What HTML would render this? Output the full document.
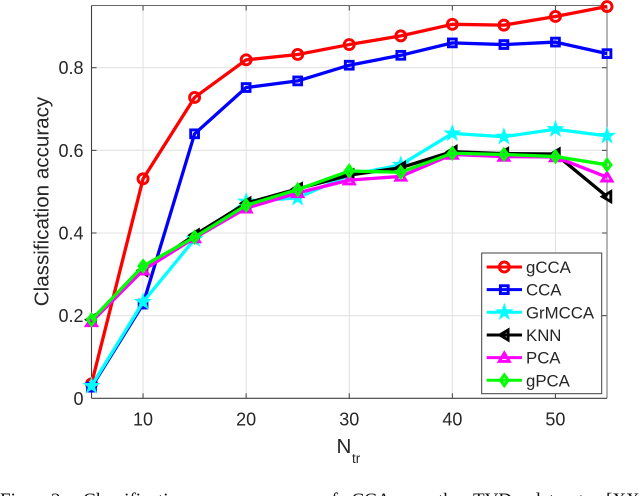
<!DOCTYPE html>
<html lang="en">
<head>
<meta charset="utf-8">
<title>Classification accuracy chart</title>
<style>
html,body{margin:0;padding:0;background:#fff;width:640px;height:496px;overflow:hidden}
svg{display:block}
text{font-family:"Liberation Sans",sans-serif;fill:#262626}
</style>
</head>
<body>
<svg id="chart" xmlns="http://www.w3.org/2000/svg" width="640" height="496" viewBox="0 0 640 496">
<g id="grid"></g>
<g id="axes"></g>
<g id="series"></g>
<g id="legend"></g>
<text transform="translate(48.5,201.5) rotate(-90)" text-anchor="middle" font-size="20.6">Classification accuracy</text>
<text x="336.5" y="453" font-size="20.6">N</text>
<text x="352" y="463" font-size="13.5">tr</text>
<g font-size="19">
<text style="font-family:'Liberation Serif',serif;fill:#111" y="506" x="0">Fig.</text>
<text style="font-family:'Liberation Serif',serif;fill:#111" y="506" x="51">2:</text>
<text style="font-family:'Liberation Serif',serif;fill:#111" y="506" x="83">Classification</text>
<text style="font-family:'Liberation Serif',serif;fill:#111" y="506" x="205">accuracy</text>
<text style="font-family:'Liberation Serif',serif;fill:#111" y="506" x="322">of</text>
<text style="font-family:'Liberation Serif',serif;fill:#111" y="506" x="342">gCCA</text>
<text style="font-family:'Liberation Serif',serif;fill:#111" y="506" x="408">on</text>
<text style="font-family:'Liberation Serif',serif;fill:#111" y="506" x="438">the</text>
<text style="font-family:'Liberation Serif',serif;fill:#111" y="506" x="473">TVD</text>
<text style="font-family:'Liberation Serif',serif;fill:#111" y="506" x="531">dataset</text>
<text style="font-family:'Liberation Serif',serif;fill:#111" y="506" x="606">[XX]</text>
</g>
</svg>
<script>
const xValues = [5, 10, 15, 20, 25, 30, 35, 40, 45, 50, 55];
const xTicks = [10, 20, 30, 40, 50];
const yTicks = [0, 0.2, 0.4, 0.6, 0.8];
const yTickLabels = ['0', '0.2', '0.4', '0.6', '0.8'];
const gCCA = [0.035, 0.531, 0.728, 0.819, 0.832, 0.856, 0.877, 0.905, 0.903, 0.924, 0.948];
const CCA = [0.027, 0.228, 0.640, 0.752, 0.768, 0.806, 0.830, 0.860, 0.856, 0.862, 0.834];
const GrMCCA = [0.030, 0.233, 0.385, 0.476, 0.485, 0.540, 0.565, 0.641, 0.633, 0.651, 0.635];
const KNN = [0.190, 0.310, 0.395, 0.472, 0.507, 0.540, 0.558, 0.597, 0.592, 0.591, 0.488];
const PCA = [0.185, 0.310, 0.388, 0.460, 0.497, 0.528, 0.537, 0.590, 0.585, 0.584, 0.535];
const gPCA = [0.190, 0.320, 0.390, 0.467, 0.505, 0.550, 0.547, 0.593, 0.590, 0.585, 0.565];
const seriesNames = ['gCCA', 'CCA', 'GrMCCA', 'KNN', 'PCA', 'gPCA'];
const seriesValues = [gCCA, CCA, GrMCCA, KNN, PCA, gPCA];
const seriesColors = ['#ff0000', '#0000ff', '#00ffff', '#000000', '#ff00ff', '#00ff00'];
const seriesMarkers = ['circle', 'square', 'star', 'left', 'up', 'diamond'];

const NS = 'http://www.w3.org/2000/svg';
const left = 91.5, right = 607, top_ = 5.5, bottom = 398.3;
function xScale(v) { return left + (v - 5) * (right - left) / 50; }
function yScale(v) { return bottom - v * 413.25; }

function mk(parent, tag, attrs) {
  const el = document.createElementNS(NS, tag);
  for (const k in attrs) el.setAttribute(k, attrs[k]);
  parent.appendChild(el);
  return el;
}

const gridG = document.getElementById('grid');
const axesG = document.getElementById('axes');
const seriesG = document.getElementById('series');
const legendG = document.getElementById('legend');

xTicks.forEach(function (t) {
  const x = xScale(t);
  const g = mk(gridG, 'line', {x1: x, x2: x, y1: top_, y2: bottom, stroke: '#e3e3e3', 'stroke-width': 1.1});
  
  
  [[bottom, bottom - 5], [top_, top_ + 5]].forEach(function (p) {
    const tick = mk(axesG, 'line', {x1: x, x2: x, y1: p[0], y2: p[1], stroke: '#404040', 'stroke-width': 1});
    
    
  });
  const label = mk(axesG, 'text', {x: x, y: 425.7, 'text-anchor': 'middle', 'font-size': 18});
  
  
  label.textContent = String(t);
});

yTicks.forEach(function (t, i) {
  const y = yScale(t);
  if (t !== 0) {
    const g = mk(gridG, 'line', {x1: left, x2: right, y1: y, y2: y, stroke: '#e3e3e3', 'stroke-width': 1.1});
    
    
    [[left, left + 5], [right, right - 5]].forEach(function (p) {
      const tick = mk(axesG, 'line', {x1: p[0], x2: p[1], y1: y, y2: y, stroke: '#404040', 'stroke-width': 1});
      
      
    });
  }
  const label = mk(axesG, 'text', {x: 83.5, y: y + 6.5, 'text-anchor': 'end', 'font-size': 18});
  
  
  label.textContent = yTickLabels[i];
});

const boxTop = mk(axesG, 'line', {x1: left, x2: right, y1: top_, y2: top_, stroke: '#666', 'stroke-width': 1.1});


const boxRight = mk(axesG, 'line', {x1: right, x2: right, y1: top_, y2: bottom, stroke: '#777', 'stroke-width': 1.1});


const boxLeft = mk(axesG, 'line', {x1: left, x2: left, y1: top_, y2: bottom, stroke: '#404040', 'stroke-width': 1.1});


const boxBottom = mk(axesG, 'line', {x1: left, x2: right, y1: bottom, y2: bottom, stroke: '#404040', 'stroke-width': 1.1});



function marker(parent, type, x, y, color) {
  const base = {fill: 'none', stroke: color, 'stroke-width': 2.9, 'stroke-linejoin': 'miter'};
  let el;
  if (type === 'circle') {
    el = mk(parent, 'circle', Object.assign({cx: x, cy: y, r: 5}, base));
  } else if (type === 'square') {
    el = mk(parent, 'rect', Object.assign({x: x - 3.9, y: y - 3.9, width: 7.8, height: 7.8}, base));
  } else if (type === 'star') {
    const pts = [];
    for (let i = 0; i < 10; i++) {
      const r = i % 2 ? 3.1 : 8;
      const a = -Math.PI / 2 + i * Math.PI / 5;
      pts.push((x + r * Math.cos(a)).toFixed(2) + ',' + (y + r * Math.sin(a)).toFixed(2));
    }
    el = mk(parent, 'polygon', Object.assign({points: pts.join(' ')}, base, {fill: color, 'stroke-width': 1}));
  } else if (type === 'left') {
    el = mk(parent, 'polygon', Object.assign({points: (x - 4.6) + ',' + y + ' ' + (x + 3.8) + ',' + (y - 5) + ' ' + (x + 3.8) + ',' + (y + 5)}, base));
  } else if (type === 'up') {
    el = mk(parent, 'polygon', Object.assign({points: x + ',' + (y - 4.6) + ' ' + (x + 5) + ',' + (y + 3.8) + ' ' + (x - 5) + ',' + (y + 3.8)}, base));
  } else {
    el = mk(parent, 'polygon', Object.assign({points: x + ',' + (y - 5.4) + ' ' + (x + 4) + ',' + y + ' ' + x + ',' + (y + 5.4) + ' ' + (x - 4) + ',' + y}, base));
  }
  return el;
}

seriesNames.forEach(function (name, s) {
  const vals = seriesValues[s];
  const color = seriesColors[s];
  const g = mk(seriesG, 'g', {});
  
  
  const pts = vals.map(function (v, i) { return xScale(xValues[i]).toFixed(2) + ',' + yScale(v).toFixed(2); });
  const line = mk(g, 'polyline', {points: pts.join(' '), fill: 'none', stroke: color, 'stroke-width': 3.3, 'stroke-linejoin': 'round'});
  
  
  vals.forEach(function (v, i) {
    const m = marker(g, seriesMarkers[s], xScale(xValues[i]), yScale(v), color);
    
    
  });
});

const legendBox = mk(legendG, 'rect', {x: 481.7, y: 253, width: 120, height: 140.7, fill: '#fff', stroke: '#404040', 'stroke-width': 1});


const legendRow0 = 267, legendRowStep = 22.65;
seriesNames.forEach(function (name, s) {
  const y = legendRow0 + s * legendRowStep;
  const g = mk(legendG, 'g', {});
  
  
  const ln = mk(g, 'line', {x1: 486.7, x2: 522, y1: y, y2: y, stroke: seriesColors[s], 'stroke-width': 3});
  
  
  const m = marker(g, seriesMarkers[s], 504.3, y, seriesColors[s]);
  
  
  const t = mk(g, 'text', {x: 526, y: y + 6, 'font-size': 16.8});
  
  
  t.textContent = name;
});
</script>
</body>
</html>
